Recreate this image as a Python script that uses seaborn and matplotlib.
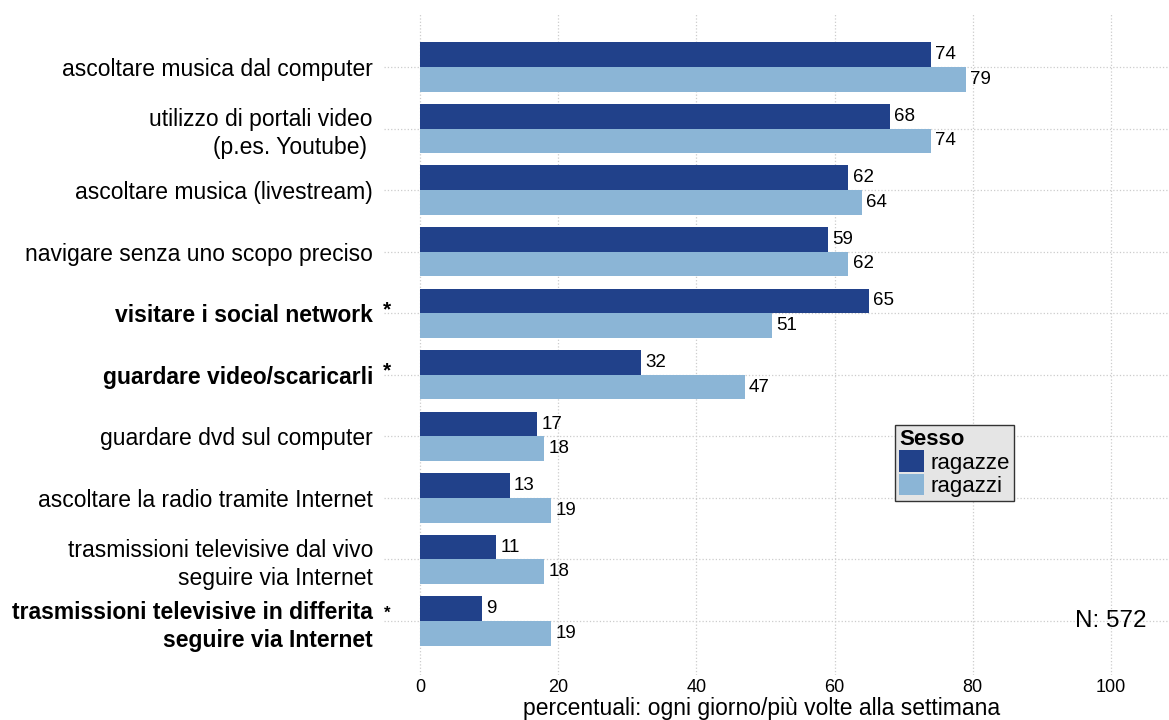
import numpy as np
import pandas as pd
import matplotlib
matplotlib.use('Agg')
import matplotlib.pyplot as plt
import seaborn as sns

attivita = [
    'ascoltare musica dal computer',
    'utilizzo di portali video\n(p.es. Youtube) ',
    'ascoltare musica (livestream)',
    'navigare senza uno scopo preciso',
    'visitare i social network',
    'guardare video/scaricarli',
    'guardare dvd sul computer',
    'ascoltare la radio tramite Internet',
    'trasmissioni televisive dal vivo\nseguire via Internet',
    'trasmissioni televisive in differita\nseguire via Internet',
]
ragazze = [74, 68, 62, 59, 65, 32, 17, 13, 11, 9]
ragazzi = [79, 74, 64, 62, 51, 47, 18, 19, 18, 19]
significativo = [False, False, False, False, True, True, False, False, False, True]
gruppi = ['ragazze', 'ragazzi']
colori = ['#21418a', '#8bb5d6']

df = pd.DataFrame({
    'attivita': attivita * 2,
    'valore': ragazze + ragazzi,
    'Sesso': [gruppi[0]] * len(attivita) + [gruppi[1]] * len(attivita),
})

sns.set_style('whitegrid', {'grid.linestyle': ':', 'grid.color': '#cccccc',
                            'text.color': 'black', 'axes.labelcolor': 'black',
                            'xtick.color': 'black', 'ytick.color': 'black'})
plt.rcParams['font.family'] = ['Liberation Sans', 'DejaVu Sans']

fig = plt.figure(figsize=(11.69, 7.2), dpi=100)
ax = fig.add_axes([384 / 1169, 45 / 720, 785 / 1169, 661 / 720])

sns.barplot(data=df, y='attivita', x='valore', hue='Sesso', order=attivita,
            hue_order=gruppi, palette=colori, saturation=1, width=0.8,
            orient='h', ax=ax, legend=True, linewidth=0)

for cont in ax.containers:
    ax.bar_label(cont, padding=3, fontsize=13.5)

ax.set_xlim(-5.21, 108.4)
ax.set_ylim(9.877, -0.861)
ax.set_xticks([0, 20, 40, 60, 80, 100])
ax.tick_params(axis='x', labelsize=13, pad=3, length=0)
ax.tick_params(axis='y', labelsize=16.5, pad=8, length=0)
ax.set_xlabel('')
ax.set_ylabel('')
for s in ax.spines.values():
    s.set_visible(False)
ax.grid(True, linewidth=0.9)

for lab, bold in zip(ax.get_yticklabels(), significativo):
    lab.set_linespacing(1.3)
    if bold:
        lab.set_fontweight('bold')

# asterisks mark the significant differences
for i, bold in enumerate(significativo):
    if bold:
        multi = '\n' in attivita[i]
        ax.text(-4.75, i - (0.13 if multi else 0.06), '*',
                fontsize=12 if multi else 15, fontweight='bold',
                ha='center', va='center', clip_on=False)

fig.text(762 / 1169, 5.5 / 720, 'percentuali: ogni giorno/più volte alla settimana',
         ha='center', va='baseline', fontsize=16.5)
ax.text(100, 9, 'N: 572', fontsize=17.5, ha='center', va='center')

leg = ax.legend(title='Sesso', loc='upper left',
                bbox_to_anchor=(895 / 1169, 1 - 425 / 720),
                bbox_transform=fig.transFigure, fontsize=16, title_fontsize=16,
                frameon=True, fancybox=False, facecolor='#e5e5e5',
                edgecolor='#333333', framealpha=1, borderpad=0.2,
                handlelength=1.1, handleheight=1.1, handletextpad=0.3,
                labelspacing=0.0, borderaxespad=0)
leg.get_title().set_fontweight('bold')
leg._legend_box.align = 'left'

fig.savefig('out.png', dpi=100)
